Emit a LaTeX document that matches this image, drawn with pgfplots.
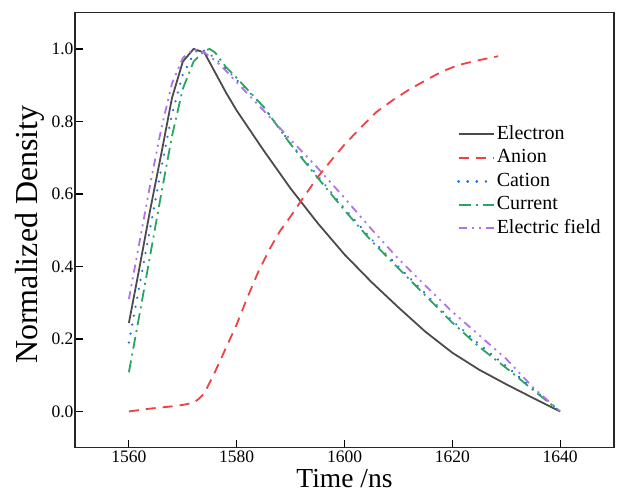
\documentclass[border=0pt]{standalone}
\usepackage{pgfplots}
\pgfplotsset{compat=1.18}
\usepackage{fontspec}
\setmainfont{Liberation Serif}
\definecolor{celec}{RGB}{75,75,75}
\definecolor{canion}{RGB}{238,66,66}
\definecolor{ccation}{RGB}{30,112,228}
\definecolor{ccurrent}{RGB}{40,165,95}
\definecolor{cfield}{RGB}{175,115,230}
\begin{document}
\begin{tikzpicture}
\begin{axis}[
  scale only axis,
  width=539pt, height=435pt,
  xmin=1550, xmax=1650,
  ymin=-0.1, ymax=1.1,
  xtick={1560,1580,1600,1620,1640},
  ytick={0,0.2,0.4,0.6,0.8,1.0},
  yticklabel style={/pgf/number format/fixed,/pgf/number format/fixed zerofill,/pgf/number format/precision=1, xshift=2pt},
  /pgf/number format/assume math mode=true,
  xticklabel style={/pgf/number format/1000 sep={}},
  tick align=inside,
  xtick pos=bottom, ytick pos=left,
  major tick length=8pt,
  tick style={line width=1.2pt, black},
  axis line style={line width=1.4pt, black!85},
  ticklabel style={font=\fontsize{17.5}{20}\selectfont},
  xlabel={Time /ns},
  ylabel={Normalized Density},
  xlabel style={font=\fontsize{27.5}{30}\selectfont, at={(axis description cs:0.5,-0.0915)}, anchor=base},
  ylabel style={font=\fontsize{32}{36}\selectfont, at={(axis description cs:-0.0835,0.49)}, anchor=center},
  legend style={at={(0.709,0.746)}, anchor=north west, draw=none, fill=none, inner sep=0pt,
    font=\fontsize{20}{24}\selectfont, row sep=1.5pt,
    nodes={text height=14pt, text depth=4pt, inner sep=2pt}},
  legend cell align=left,
  legend image code/.code={\path (0pt,0pt) -- (35pt,0pt); \draw[#1] (0pt,0pt) -- (27pt,0pt);},
  every axis plot/.append style={line width=1.8pt},
]
\addplot[celec, solid] coordinates {
(1560,0.244) (1562,0.40) (1564,0.56) (1566,0.71) (1568,0.865) (1570,0.965) (1572,1.0) (1574,0.99)
(1576,0.935) (1578,0.88) (1580,0.83) (1585,0.72) (1590,0.615) (1595,0.52) (1600,0.433)
(1605,0.357) (1610,0.287) (1615,0.22) (1620,0.162) (1625,0.115) (1630,0.075) (1635,0.037) (1640,0.0)
};
\addlegendentry{Electron}
\addplot[canion, dash pattern=on 10pt off 7pt] coordinates {
(1560,0.0) (1562,0.004) (1564,0.008) (1566,0.011) (1568,0.014) (1570,0.018) (1572,0.024) (1573,0.035)
(1574,0.05) (1576,0.11) (1578,0.175) (1580,0.24) (1582,0.315) (1584,0.385) (1586,0.445) (1588,0.497)
(1590,0.538) (1592,0.582) (1595,0.646) (1598,0.701) (1600,0.736) (1603,0.783) (1606,0.827)
(1609,0.859) (1612,0.888) (1615,0.913) (1618,0.937) (1621,0.955) (1624,0.966) (1628.5,0.98)
};
\addlegendentry{Anion}
\addplot[ccation, line cap=round, line width=2.4pt, dash pattern=on 0.1pt off 9pt] coordinates {
(1560,0.19) (1562,0.35) (1564,0.51) (1566,0.67) (1568,0.82) (1570,0.93) (1572,0.985) (1573,1.0)
(1574,0.995) (1576,0.975) (1578,0.945) (1580,0.915) (1585,0.84) (1590,0.74) (1595,0.65) (1600,0.56)
(1605,0.475) (1610,0.40) (1615,0.325) (1620,0.25) (1625,0.185) (1630,0.125) (1635,0.062) (1640,0.0)
};
\addlegendentry{Cation}
\addplot[ccurrent, dash pattern=on 12pt off 5pt on 2pt off 5pt] coordinates {
(1560,0.108) (1562,0.27) (1564,0.435) (1566,0.60) (1568,0.76) (1570,0.89) (1572,0.965) (1574,0.995)
(1575,1.0) (1576,0.99) (1578,0.95) (1580,0.92) (1585,0.84) (1590,0.737) (1595,0.645) (1600,0.555)
(1605,0.47) (1610,0.395) (1615,0.32) (1620,0.245) (1625,0.178) (1630,0.12) (1635,0.059) (1640,0.0)
};
\addlegendentry{Current}
\addplot[cfield, dash pattern=on 8pt off 5pt on 2pt off 5pt on 2pt off 5pt] coordinates {
(1560,0.31) (1562,0.47) (1564,0.63) (1566,0.78) (1568,0.905) (1570,0.975) (1572,1.0) (1574,0.99)
(1576,0.968) (1578,0.94) (1580,0.908) (1585,0.83) (1590,0.75) (1595,0.672) (1600,0.589) (1605,0.503)
(1610,0.421) (1615,0.347) (1620,0.275) (1625,0.21) (1630,0.145) (1635,0.066) (1640,0.0)
};
\addlegendentry{Electric field}
\end{axis}
\pgfresetboundingbox
\path ([xshift=-75pt,yshift=-46.3pt]current axis.south west) rectangle ([xshift=5pt,yshift=12.7pt]current axis.north east);
\end{tikzpicture}
\end{document}
